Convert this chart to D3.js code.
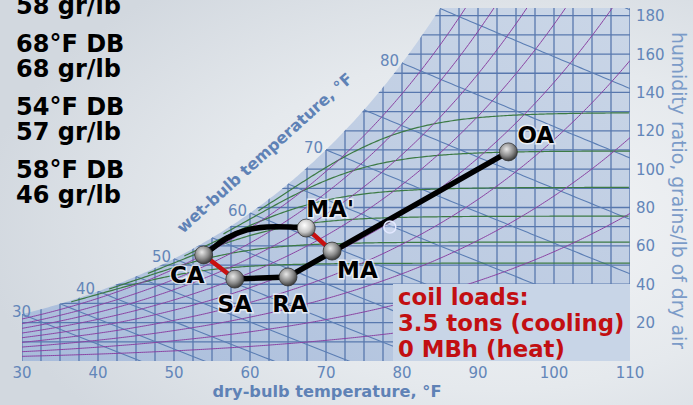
<!DOCTYPE html>
<html>
<head>
<meta charset="utf-8">
<script src="https://cdn.jsdelivr.net/npm/d3@7"></script>
<style>
  body { margin: 0; overflow: hidden; }
  svg { display: block; font-family: "DejaVu Sans", Verdana, sans-serif; }
</style>
</head>
<body>
<svg id="chart" width="693" height="405"></svg>
<script>
// state points (dry-bulb °F, humidity ratio gr/lb)
const stateNames = ["OA", "MA", "MA'", "CA", "SA", "RA"];
const stateDB = [94.0, 70.8, 67.4, 53.9, 58.0, 65.0];
const stateW = [109.0, 57.3, 69.3, 55.3, 42.7, 43.8];

// reheat curve CA -> MA'
const reheatDB = [53.9, 55.1, 57.0, 59.6, 62.2, 65.3, 67.4];
const reheatW = [55.3, 58.9, 64.1, 68.3, 69.8, 69.8, 69.3];

// readout lines (the first one is cut at the top edge)
const readout = ["58 gr/lb", "68°F DB", "68 gr/lb", "54°F DB", "57 gr/lb", "58°F DB", "46 gr/lb"];
const coilText = ["coil loads:", "3.5 tons (cooling)", "0 MBh (heat)"];

const dbTicks = [30, 40, 50, 60, 70, 80, 90, 100, 110];
const wTicks = [20, 40, 60, 80, 100, 120, 140, 160, 180];
const wbLabels = [30, 40, 50, 60, 70, 80];
const rhLevels = [10, 20, 30, 40, 50, 60, 70, 80, 90];
const wbLevels = [30, 35, 40, 45, 50, 55, 60, 65, 70, 75, 80, 85, 90];
const greenW = [51, 62, 75.5, 90.5, 109.5, 129.5];

// psychrometrics (sea level)
const P = 101.325;
const toC = (f) => (f - 32) / 1.8;
const pws = (f) => { let c = toC(f); return 0.61094 * Math.exp(17.625 * c / (c + 243.04)); };
const wFromPw = (pw) => 7000 * 0.621945 * pw / (P - pw);
const wSat = (f) => wFromPw(pws(f));
const wRH = (f, rh) => wFromPw(rh / 100 * pws(f));
const wWB = (f, wb) => {
  let t = toC(f), tw = toC(wb), ws = wSat(wb) / 7000;
  return 7000 * ((2501 - 2.326 * tw) * ws - 1.006 * (t - tw)) / (2501 + 1.86 * t - 4.186 * tw);
};
const satTemp = (w) => {
  let lo = 0, hi = 140;
  for (let i = 0; i < 50; i++) { let m = (lo + hi) / 2; if (wSat(m) < w) lo = m; else hi = m; }
  return lo;
};

let svg = d3.select("#chart");
let x = d3.scaleLinear().domain([30, 110]).range([22, 630]);
let y = d3.scaleLinear().domain([0, 184]).range([361, 8]);

let defs = svg.append("defs");

let bg = defs.append("radialGradient").attr("id", "bg")
  .attr("cx", "72%").attr("cy", "55%").attr("r", "75%");
bg.append("stop").attr("offset", "0%").style("stop-color", "#f4f5f7");
bg.append("stop").attr("offset", "55%").style("stop-color", "#e5e9ed");
bg.append("stop").attr("offset", "100%").style("stop-color", "#d2d8df");

let fill = defs.append("linearGradient").attr("id", "blueFill")
  .attr("x1", "0%").attr("y1", "100%").attr("x2", "100%").attr("y2", "0%");
fill.append("stop").attr("offset", "0%").style("stop-color", "#a8bcdb");
fill.append("stop").attr("offset", "45%").style("stop-color", "#bccbe2");
fill.append("stop").attr("offset", "100%").style("stop-color", "#cad6e7");

let ball = defs.append("radialGradient").attr("id", "ball")
  .attr("cx", "40%").attr("cy", "35%").attr("r", "65%");
ball.append("stop").attr("offset", "0%").style("stop-color", "#e8e8e8");
ball.append("stop").attr("offset", "60%").style("stop-color", "#8a8a8a");
ball.append("stop").attr("offset", "100%").style("stop-color", "#3c3c3c");

let ballLight = defs.append("radialGradient").attr("id", "ballLight")
  .attr("cx", "40%").attr("cy", "35%").attr("r", "65%");
ballLight.append("stop").attr("offset", "0%").style("stop-color", "#ffffff");
ballLight.append("stop").attr("offset", "60%").style("stop-color", "#c8c8c8");
ballLight.append("stop").attr("offset", "100%").style("stop-color", "#6a6a6a");

svg.append("rect").attr("width", 693).attr("height", 405).attr("fill", "url(#bg)");

// area under the saturation curve
let wTop = 184;
let tTop = satTemp(wTop);
let satPts = d3.range(30, tTop, 0.25).map((t) => [t, wSat(t)]);
satPts.push([tTop, wTop]);
let region = satPts.concat([[110, wTop], [110, 0], [30, 0]]);
let regionPath = d3.line().x((d) => x(d[0])).y((d) => y(d[1]))(region) + "Z";

defs.append("clipPath").attr("id", "clip").append("path").attr("d", regionPath);
svg.append("path").attr("d", regionPath).attr("fill", "url(#blueFill)");

let g = svg.append("g").attr("clip-path", "url(#clip)").attr("fill", "none");
let line = d3.line().x((d) => x(d[0])).y((d) => y(d[1]));
let temps = d3.range(30, 110.01, 0.25);

// grid
g.selectAll(".vgrid").data(d3.range(30, 110.01, 2.5)).join("line")
  .attr("x1", (d) => x(d)).attr("x2", (d) => x(d))
  .attr("y1", y(0)).attr("y2", y(wTop))
  .attr("stroke", "#5878ae").attr("stroke-width", 1.3);
g.selectAll(".hgrid").data(d3.range(10, 181, 10)).join("line")
  .attr("x1", x(30)).attr("x2", x(110))
  .attr("y1", (d) => y(d)).attr("y2", (d) => y(d))
  .attr("stroke", "#5878ae").attr("stroke-width", 1.3);

// wet-bulb lines
wbLevels.forEach((wb) => {
  let pts = d3.range(wb, 110.01, 0.5).map((t) => [t, wWB(t, wb)]).filter((d) => d[1] > -5);
  g.append("path").attr("d", line(pts)).attr("stroke", "#5b7eb4").attr("stroke-width", 1.1);
});

// green lines
greenW.forEach((w0) => {
  let t0 = satTemp(0.62 * w0);
  let pts = d3.range(t0, 110.01, 0.25).map((t) => {
    let ws = wSat(t);
    return [t, Math.pow(Math.pow(w0, -4.5) + Math.pow(ws, -4.5), -1 / 4.5)];
  });
  g.append("path").attr("d", line(pts)).attr("stroke", "#3c7a44").attr("stroke-width", 1.2);
});

// relative humidity curves
rhLevels.forEach((rh) => {
  let pts = temps.map((t) => [t, wRH(t, rh)]).filter((d) => d[1] < wTop + 20);
  g.append("path").attr("d", line(pts)).attr("stroke", "#8a42a2").attr("stroke-width", 1);
});

// wet-bulb labels
svg.selectAll(".wbl").data(wbLabels).join("text")
  .attr("x", (d) => Math.max(x(d) - 3, x(30) + 9))
  .attr("y", (d) => y(wSat(d)) + 3)
  .attr("text-anchor", "end").attr("font-size", 15).attr("fill", "#6386b9")
  .text((d) => d);

svg.append("text").attr("transform", "translate(183,234) rotate(-42)")
  .attr("font-size", 16).attr("font-weight", "bold").attr("fill", "#5f82b6")
  .text("wet-bulb temperature, °F");

// axes labels
svg.selectAll(".xt").data(dbTicks).join("text")
  .attr("x", (d) => x(d)).attr("y", 378).attr("text-anchor", "middle")
  .attr("font-size", 15).attr("fill", "#6386b9").text((d) => d);
svg.selectAll(".yt").data(wTicks).join("text")
  .attr("x", 636).attr("y", (d) => y(d) + 5.5)
  .attr("font-size", 15).attr("fill", "#6386b9").text((d) => d);

svg.append("text").attr("x", 327).attr("y", 397).attr("text-anchor", "middle")
  .attr("font-size", 16.2).attr("font-weight", "bold").attr("fill", "#5f82b6")
  .text("dry-bulb temperature, °F");
svg.append("text").attr("transform", "translate(672,32) rotate(90)")
  .attr("font-size", 18.8).attr("fill", "#7b9bc8")
  .text("humidity ratio, grains/lb of dry air");

// coil loads box
svg.append("rect").attr("x", 393).attr("y", 284)
  .attr("width", x(110) - 393).attr("height", y(0) - 284)
  .attr("fill", "#c8d5e7");
svg.selectAll(".coil").data(coilText).join("text")
  .attr("x", 398).attr("y", (d, i) => 305 + i * 26)
  .attr("font-size", 22.8).attr("font-weight", "bold").attr("fill", "#c20f12")
  .text((d) => d);

// process lines
let pt = (name) => { let i = stateNames.indexOf(name); return [stateDB[i], stateW[i]]; };
let paths = svg.append("g").attr("fill", "none").attr("stroke-linecap", "round").attr("stroke-linejoin", "round");
paths.append("path").attr("d", line([pt("RA"), pt("OA")])).attr("stroke", "#000").attr("stroke-width", 5.5);
paths.append("path").attr("d", line([pt("SA"), pt("RA")])).attr("stroke", "#000").attr("stroke-width", 5.5);
paths.append("path")
  .attr("d", d3.line().curve(d3.curveCatmullRom).x((d, i) => x(reheatDB[i])).y((d, i) => y(reheatW[i]))(reheatDB))
  .attr("stroke", "#000").attr("stroke-width", 5.5);
paths.append("path").attr("d", line([pt("CA"), pt("SA")])).attr("stroke", "#c81010").attr("stroke-width", 4.5);
paths.append("path").attr("d", line([pt("MA'"), pt("MA")])).attr("stroke", "#c81010").attr("stroke-width", 4.5);

// stray marker near MA
svg.append("circle").attr("cx", x(78.4)).attr("cy", y(69.8)).attr("r", 6)
  .attr("fill", "rgba(232,236,255,0.35)").attr("stroke", "#e3e8ff").attr("stroke-width", 1.5);

svg.selectAll(".pt").data(stateNames).join("circle")
  .attr("cx", (d, i) => x(stateDB[i])).attr("cy", (d, i) => y(stateW[i])).attr("r", 9)
  .attr("fill", (d) => d == "MA'" ? "url(#ballLight)" : "url(#ball)")
  .attr("stroke", "#333").attr("stroke-width", 0.8);

let labelPos = {
  "OA": [9, -9, "start"], "MA": [5, 27, "start"], "MA'": [0, -11, "start"],
  "CA": [1, 28, "end"], "SA": [0, 33, "middle"], "RA": [2, 35, "middle"]
};
svg.selectAll(".lbl").data(stateNames).join("text")
  .attr("x", (d, i) => x(stateDB[i]) + labelPos[d][0])
  .attr("y", (d, i) => y(stateW[i]) + labelPos[d][1])
  .attr("text-anchor", (d) => labelPos[d][2])
  .attr("font-size", 23).attr("font-weight", "bold").attr("fill", "#000")
  .attr("stroke", "rgba(255,255,255,0.7)").attr("stroke-width", 3).attr("paint-order", "stroke")
  .text((d) => d);

// state readout, in pairs (DB, gr/lb); the first pair's DB line is above the window
svg.selectAll(".ro").data(readout).join("text")
  .attr("x", 16).attr("y", (d, i) => -11 + Math.floor((i + 1) / 2) * 63 + ((i + 1) % 2) * 25)
  .attr("font-size", 24).attr("font-weight", "bold").attr("fill", "#000")
  .text((d) => d);
</script>
</body>
</html>
